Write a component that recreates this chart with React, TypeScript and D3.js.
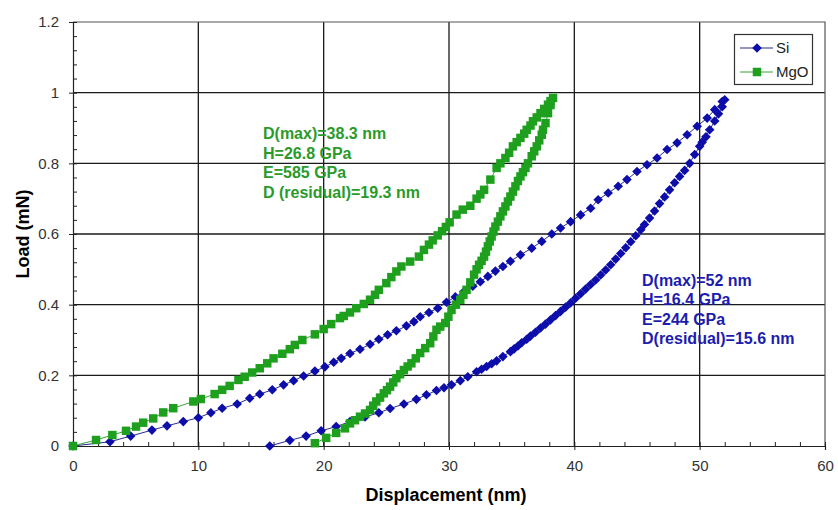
import React, { useEffect, useRef } from 'react';
import * as d3 from 'd3';

// Nanoindentation load-displacement curves, Si vs MgO

const xTicks = [0, 10, 20, 30, 40, 50, 60];
const yTicks = [0, 0.2, 0.4, 0.6, 0.8, 1, 1.2];

// Si: loading then unloading (displacement nm, load mN)
const siLoad: [number, number][] = [
  [0, 0], [2.95, 0.012], [4.6, 0.028], [6.3, 0.045], [7.5, 0.057], [8.8, 0.069], [10.0, 0.08],
  [11.0, 0.094], [11.9, 0.107], [13.1, 0.119], [14.1, 0.135], [14.9, 0.147], [15.9, 0.159],
  [16.8, 0.173], [17.6, 0.185], [18.4, 0.198], [19.3, 0.212], [20.1, 0.224], [20.8, 0.237],
  [21.4, 0.248], [22.1, 0.262], [22.9, 0.274], [23.7, 0.288], [24.4, 0.302], [25.1, 0.315],
  [25.8, 0.326], [26.6, 0.34], [27.2, 0.352], [27.7, 0.366], [28.4, 0.378], [29.1, 0.39],
  [29.8, 0.407], [30.5, 0.422], [31.2, 0.437], [31.9, 0.452], [32.5, 0.465], [33.1, 0.48],
  [33.7, 0.495], [34.3, 0.508], [34.9, 0.523], [35.7, 0.541], [36.6, 0.56], [37.4, 0.579],
  [38.2, 0.6], [38.9, 0.617], [39.7, 0.635], [40.5, 0.654], [41.3, 0.673], [41.9, 0.697],
  [42.7, 0.716], [43.5, 0.735], [44.2, 0.754], [45.0, 0.777], [45.8, 0.796], [46.6, 0.815],
  [47.4, 0.839], [48.2, 0.858], [49.0, 0.881], [49.8, 0.905], [50.6, 0.928], [51.2, 0.952],
  [51.8, 0.975]
];
const siUnload: [number, number][] = [
  [52.0, 0.98], [51.8, 0.96], [51.5, 0.94], [51.2, 0.92], [50.8, 0.895], [50.5, 0.875],
  [50.2, 0.86], [50.0, 0.848], [49.6, 0.825], [49.2, 0.8], [48.8, 0.78], [48.4, 0.763],
  [48.0, 0.745], [47.6, 0.725], [47.2, 0.705], [46.8, 0.686], [46.4, 0.665], [46.0, 0.645],
  [45.6, 0.627], [45.3, 0.612], [44.9, 0.595], [44.5, 0.578], [44.1, 0.561], [43.7, 0.545],
  [43.3, 0.529], [42.9, 0.513], [42.5, 0.498], [42.1, 0.484], [41.7, 0.47], [41.3, 0.457],
  [40.9, 0.444], [40.5, 0.431], [40.1, 0.418], [39.7, 0.405], [39.3, 0.393], [38.9, 0.381],
  [38.5, 0.369], [38.1, 0.357], [37.7, 0.345], [37.3, 0.334], [36.9, 0.322], [36.5, 0.311],
  [36.2, 0.302], [35.8, 0.292], [35.5, 0.283], [35.2, 0.275], [34.9, 0.267], [34.3, 0.253],
  [33.8, 0.241], [33.4, 0.233], [33.0, 0.225], [32.6, 0.217], [32.2, 0.21], [31.5, 0.196],
  [30.9, 0.185], [30.2, 0.173], [29.6, 0.165], [29.0, 0.157], [28.2, 0.145], [27.4, 0.132],
  [26.4, 0.119], [25.3, 0.106], [24.4, 0.094], [23.3, 0.082], [22.1, 0.069], [21.0, 0.055],
  [19.8, 0.043], [18.6, 0.028], [17.3, 0.016], [15.7, 0.0]
];

// MgO: loading then unloading
const mgoLoad: [number, number][] = [
  [0, 0], [1.84, 0.017], [3.14, 0.031], [4.23, 0.043], [5.03, 0.055], [5.6, 0.066], [6.4, 0.078],
  [7.2, 0.095], [8.0, 0.107], [9.6, 0.126], [10.2, 0.133], [11.3, 0.147], [11.9, 0.159],
  [12.5, 0.17], [13.2, 0.187], [13.7, 0.196], [14.3, 0.208], [14.9, 0.22], [15.5, 0.234],
  [16.0, 0.248], [16.7, 0.261], [17.3, 0.274], [17.7, 0.286], [18.3, 0.3], [19.3, 0.316],
  [20.0, 0.331], [20.6, 0.345], [21.3, 0.362], [21.6, 0.368], [22.1, 0.378], [22.6, 0.39],
  [23.2, 0.402], [23.7, 0.414], [24.1, 0.428], [24.4, 0.442], [25.0, 0.461], [25.4, 0.478],
  [25.8, 0.494], [26.2, 0.508], [26.9, 0.522], [27.6, 0.536], [28.0, 0.555], [28.4, 0.57],
  [28.7, 0.582], [29.1, 0.596], [29.45, 0.608], [29.75, 0.62], [30.05, 0.633], [30.6, 0.655],
  [31.1, 0.669], [31.7, 0.68], [32.2, 0.7], [32.5, 0.712], [32.8, 0.725], [33.3, 0.754],
  [33.8, 0.787], [34.1, 0.8], [34.5, 0.815], [34.8, 0.83], [35.1, 0.848], [35.4, 0.86],
  [35.7, 0.872], [36.0, 0.884], [36.2, 0.895], [36.5, 0.907], [36.7, 0.919], [37.0, 0.93],
  [37.3, 0.942], [37.6, 0.954], [37.9, 0.966], [38.1, 0.976], [38.3, 0.985]
];
const mgoUnload: [number, number][] = [
  [38.1, 0.965], [37.9, 0.942], [37.7, 0.914], [37.5, 0.895], [37.4, 0.881], [37.2, 0.865],
  [37.0, 0.848], [36.8, 0.834], [36.6, 0.82], [36.3, 0.8], [36.1, 0.787], [35.9, 0.775],
  [35.7, 0.763], [35.5, 0.75], [35.3, 0.735], [35.1, 0.72], [34.9, 0.706], [34.7, 0.692],
  [34.5, 0.678], [34.3, 0.664], [34.1, 0.65], [33.9, 0.635], [33.7, 0.621], [33.55, 0.607],
  [33.4, 0.593], [33.25, 0.579], [33.1, 0.565], [32.95, 0.55], [32.8, 0.536], [32.6, 0.524],
  [32.4, 0.513], [32.2, 0.5], [32.0, 0.485], [31.7, 0.463], [31.4, 0.442], [31.15, 0.428],
  [30.9, 0.414], [30.55, 0.4], [30.2, 0.385], [29.95, 0.366], [29.7, 0.348], [29.3, 0.338],
  [29.0, 0.329], [28.75, 0.31], [28.5, 0.291], [28.1, 0.277], [27.7, 0.263], [27.35, 0.248],
  [27.0, 0.234], [26.7, 0.225], [26.4, 0.215], [26.1, 0.203], [25.8, 0.192], [25.55, 0.18],
  [25.3, 0.168], [25.05, 0.158], [24.8, 0.149], [24.5, 0.137], [24.2, 0.126], [23.95, 0.114],
  [23.7, 0.102], [23.3, 0.092], [22.9, 0.083], [22.5, 0.073], [22.1, 0.064], [21.7, 0.05],
  [21.0, 0.037], [20.2, 0.023], [19.3, 0.008]
];

const siNotes = ['D(max)=52 nm', 'H=16.4 GPa', 'E=244 GPa', 'D(residual)=15.6 nm'];
const mgoNotes = ['D(max)=38.3 nm', 'H=26.8 GPa', 'E=585 GPa', 'D (residual)=19.3 nm'];

const BLUE = '#0d0daa';
const BLUE_LINE = '#2a2a90';
const GREEN = '#1ea01e';
const GREEN_LINE = '#3aa03a';
const FONT = '"Liberation Sans", Arial, sans-serif';

export default function App() {
  const ref = useRef<SVGSVGElement>(null);

  useEffect(() => {
    const svg = d3.select(ref.current);
    svg.selectAll('*').remove();

    const x = d3.scaleLinear().domain([0, 60]).range([73, 825]);
    const y = d3.scaleLinear().domain([0, 1.2]).range([446, 22]);

    // grid
    const g = svg.append('g');
    g.selectAll('.vg').data(xTicks.slice(1, -1)).join('line')
      .attr('x1', d => x(d)).attr('x2', d => x(d))
      .attr('y1', y(1.2)).attr('y2', y(0))
      .attr('stroke', '#1a1a1a').attr('stroke-width', 1.3);
    g.selectAll('.hg').data(yTicks.slice(1, -1)).join('line')
      .attr('x1', x(0)).attr('x2', x(60))
      .attr('y1', d => y(d)).attr('y2', d => y(d))
      .attr('stroke', '#1a1a1a').attr('stroke-width', 1.3);
    // border top/right
    g.append('path')
      .attr('d', `M${x(0)},${y(1.2)}H${x(60)}V${y(0)}`)
      .attr('fill', 'none').attr('stroke', '#555').attr('stroke-width', 1.2);

    // axes
    const xAxis = svg.append('g').attr('transform', `translate(0,${y(0)})`)
      .call(d3.axisBottom(x).tickValues(xTicks).tickSize(4).tickPadding(10).tickFormat(d3.format('d')));
    const xMinor = svg.append('g').attr('transform', `translate(0,${y(0)})`)
      .call(d3.axisTop(x).tickValues(d3.range(0, 61, 2)).tickSize(4).tickFormat(() => ''));
    const yAxis = svg.append('g').attr('transform', `translate(${x(0)},0)`)
      .call(d3.axisLeft(y).tickValues(yTicks).tickSize(4).tickPadding(10).tickFormat(d => String(+(+d).toFixed(1))));
    const yMinor = svg.append('g').attr('transform', `translate(${x(0)},0)`)
      .call(d3.axisRight(y).tickValues(d3.range(0, 31).map(i => i * 0.04)).tickSize(4).tickFormat(() => ''));
    [xAxis, xMinor, yAxis, yMinor].forEach(a => {
      a.select('.domain').attr('stroke', '#222').attr('stroke-width', 1.2);
      a.selectAll('line').attr('stroke', '#222');
      a.selectAll('text').attr('font-family', FONT).attr('font-size', 15).attr('fill', '#333');
    });
    xMinor.select('.domain').remove();
    yMinor.select('.domain').remove();

    // axis titles
    svg.append('text')
      .attr('x', 446).attr('y', 501)
      .attr('text-anchor', 'middle')
      .attr('font-family', FONT).attr('font-size', 18).attr('font-weight', 'bold')
      .text('Displacement (nm)');
    svg.append('text')
      .attr('transform', `translate(29,234) rotate(-90)`)
      .attr('text-anchor', 'middle')
      .attr('font-family', FONT).attr('font-size', 18).attr('font-weight', 'bold')
      .text('Load (mN)');

    const line = d3.line<[number, number]>().x(d => x(d[0])).y(d => y(d[1]));
    const diamond = d3.symbol().type(d3.symbolSquare).size(46)();
    const square = d3.symbol().type(d3.symbolSquare).size(72)();

    // Si series
    const si = siLoad.concat(siUnload);
    svg.append('path').datum(si)
      .attr('d', line).attr('fill', 'none').attr('stroke', BLUE_LINE).attr('stroke-width', 1);
    svg.append('g').selectAll('path').data(si).join('path')
      .attr('d', diamond)
      .attr('transform', d => `translate(${x(d[0])},${y(d[1])}) rotate(45)`)
      .attr('fill', BLUE);

    // MgO series
    const mgo = mgoLoad.concat(mgoUnload);
    svg.append('path').datum(mgo)
      .attr('d', line).attr('fill', 'none').attr('stroke', GREEN_LINE).attr('stroke-width', 1);
    svg.append('g').selectAll('path').data(mgo).join('path')
      .attr('d', square)
      .attr('transform', d => `translate(${x(d[0])},${y(d[1])})`)
      .attr('fill', GREEN);

    // annotations
    svg.append('g').selectAll('text').data(mgoNotes).join('text')
      .attr('x', 263).attr('y', (d, i) => 139 + i * 19.7)
      .attr('font-family', FONT).attr('font-size', 16).attr('font-weight', 'bold')
      .attr('fill', '#2a9a2a')
      .text(d => d);
    svg.append('g').selectAll('text').data(siNotes).join('text')
      .attr('x', 642).attr('y', (d, i) => 286 + i * 19.4)
      .attr('font-family', FONT).attr('font-size', 16).attr('font-weight', 'bold')
      .attr('fill', '#1c1cae')
      .text(d => d);

    // legend
    const lg = svg.append('g');
    lg.append('rect').attr('x', 734.5).attr('y', 34.5).attr('width', 78).attr('height', 50)
      .attr('fill', '#fff').attr('stroke', '#333').attr('stroke-width', 1.2);
    const items = [
      { name: 'Si', color: BLUE, lineColor: BLUE_LINE, mark: diamond, rot: 45, yy: 48 },
      { name: 'MgO', color: GREEN, lineColor: GREEN_LINE, mark: square, rot: 0, yy: 72 }
    ];
    items.forEach(it => {
      lg.append('line').attr('x1', 740).attr('x2', 773).attr('y1', it.yy).attr('y2', it.yy)
        .attr('stroke', it.lineColor).attr('stroke-width', 1);
      lg.append('path').attr('d', it.mark)
        .attr('transform', `translate(757,${it.yy}) rotate(${it.rot})`)
        .attr('fill', it.color);
      lg.append('text').attr('x', 776).attr('y', it.yy + 5)
        .attr('font-family', FONT).attr('font-size', 15).attr('fill', '#222')
        .text(it.name);
    });
  }, []);

  return (
    <svg ref={ref} width={838} height={510}
      style={{ position: 'absolute', left: 0, top: 0, background: '#fff' }} />
  );
}
